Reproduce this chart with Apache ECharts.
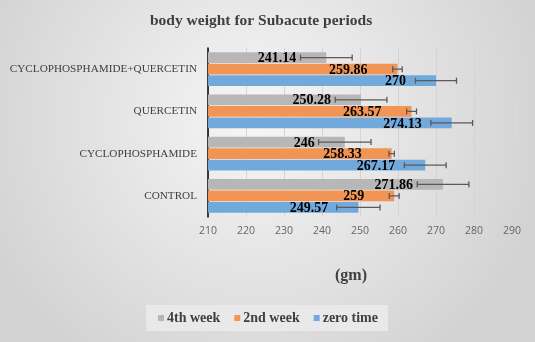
<!DOCTYPE html>
<html><head><meta charset="utf-8">
<script src="https://cdn.jsdelivr.net/npm/echarts@6/dist/echarts.min.js"></script>
<style>html,body{margin:0;padding:0;}#c{width:535px;height:342px;}</style>
</head><body><div id="c"></div>
<script>
const categories = ['CONTROL', 'CYCLOPHOSPHAMIDE', 'QUERCETIN', 'CYCLOPHOSPHAMIDE+QUERCETIN'];
const seriesNames = ['4th week', '2nd week', 'zero time'];
const week4 = [271.86, 246, 250.28, 241.14];
const week2 = [259, 258.33, 263.57, 259.86];
const zeroTime = [249.57, 267.17, 274.13, 270];
const err4 = [6.8, 6.9, 6.8, 6.8];
const err2 = [1.3, 0.7, 1.3, 1.25];
const err0 = [5.7, 5.5, 5.5, 5.4];
const xTicks = [210, 220, 230, 240, 250, 260, 270, 280, 290];

const values = [week4, week2, zeroTime];
const errs = [err4, err2, err0];
const colors = ['#b7b7b7', '#f29554', '#72a9dd'];
const CAT_GAP = 0.20, BAR_GAP = 0.08;

const errData = [];
values.forEach((arr, s) => arr.forEach((v, i) => errData.push([v, i, s, errs[s][i]])));

const serif = 'Liberation Serif';
const chart = echarts.init(document.getElementById('c'));
chart.setOption({
  animation: false,
  backgroundColor: {
    type: 'radial', x: 0.48, y: 0.35, r: 0.85,
    colorStops: [{offset: 0, color: '#f6f6f6'}, {offset: 1, color: '#d3d3d3'}]
  },
  title: {
    text: 'body weight for Subacute periods',
    left: 150, top: 13, padding: 0,
    textStyle: {fontFamily: serif, fontWeight: 'bold', fontSize: 15.5, color: '#404040'}
  },
  legend: {
    data: seriesNames,
    left: 146, top: 305,
    padding: [6, 10, 6, 12],
    backgroundColor: 'rgba(235,235,235,0.85)',
    itemWidth: 6, itemHeight: 6, itemGap: 14, icon: 'rect',
    textStyle: {fontFamily: serif, fontWeight: 'bold', fontSize: 14, color: '#404040', padding: [0, 0, 0, -2]}
  },
  grid: {left: 208, right: 23, top: 48, bottom: 125, containLabel: false},
  xAxis: {
    type: 'value', min: xTicks[0], max: xTicks[xTicks.length - 1], interval: 10,
    name: '(gm)', nameLocation: 'middle', nameGap: 51,
    nameTextStyle: {fontFamily: serif, fontWeight: 'bold', fontSize: 16, color: '#404040', padding: [0, 18, 0, 0]},
    axisLine: {show: false}, axisTick: {show: false},
    axisLabel: {fontFamily: 'Open Sans', fontSize: 10.5, color: '#666666', margin: 9},
    splitLine: {show: true, lineStyle: {color: '#d4d4d4', width: 1}}
  },
  yAxis: {
    type: 'category', data: categories,
    axisLine: {show: true, lineStyle: {color: '#000', width: 1.5}},
    axisTick: {show: false},
    axisLabel: {fontFamily: serif, fontSize: 11.2, color: '#404040', margin: 11}
  },
  series: values.map((arr, s) => ({
    name: seriesNames[s], type: 'bar', data: arr,
    barCategoryGap: (CAT_GAP * 100) + '%', barGap: (BAR_GAP * 100) + '%',
    itemStyle: {color: colors[s]},
    label: {
      show: true, position: 'insideRight', distance: 30,
      fontFamily: serif, fontWeight: 'bold', fontSize: 14, color: '#000',
      offset: [0, 1]
    }
  })).concat([{
    type: 'custom', name: 'err', z: 5,
    encode: {x: 0, y: 1},
    data: errData,
    renderItem: function (params, api) {
      const v = api.value(0), cat = api.value(1), s = api.value(2), e = api.value(3);
      const band = api.size([0, 1])[1];
      const n = 3;
      const w = band * (1 - CAT_GAP) / (n + (n - 1) * BAR_GAP);
      const total = n * w + (n - 1) * w * BAR_GAP;
      const yc = api.coord([v, cat])[1] - total / 2 + s * w * (1 + BAR_GAP) + w / 2;
      const x1 = api.coord([v - e, cat])[0];
      const x2 = api.coord([v + e, cat])[0];
      const h = 3;
      const st = {stroke: '#5a5a5a', lineWidth: 1.3};
      return {type: 'group', children: [
        {type: 'line', shape: {x1: x1, y1: yc, x2: x2, y2: yc}, style: st},
        {type: 'line', shape: {x1: x1, y1: yc - h, x2: x1, y2: yc + h}, style: st},
        {type: 'line', shape: {x1: x2, y1: yc - h, x2: x2, y2: yc + h}, style: st}
      ]};
    }
  }])
});
</script></body></html>
